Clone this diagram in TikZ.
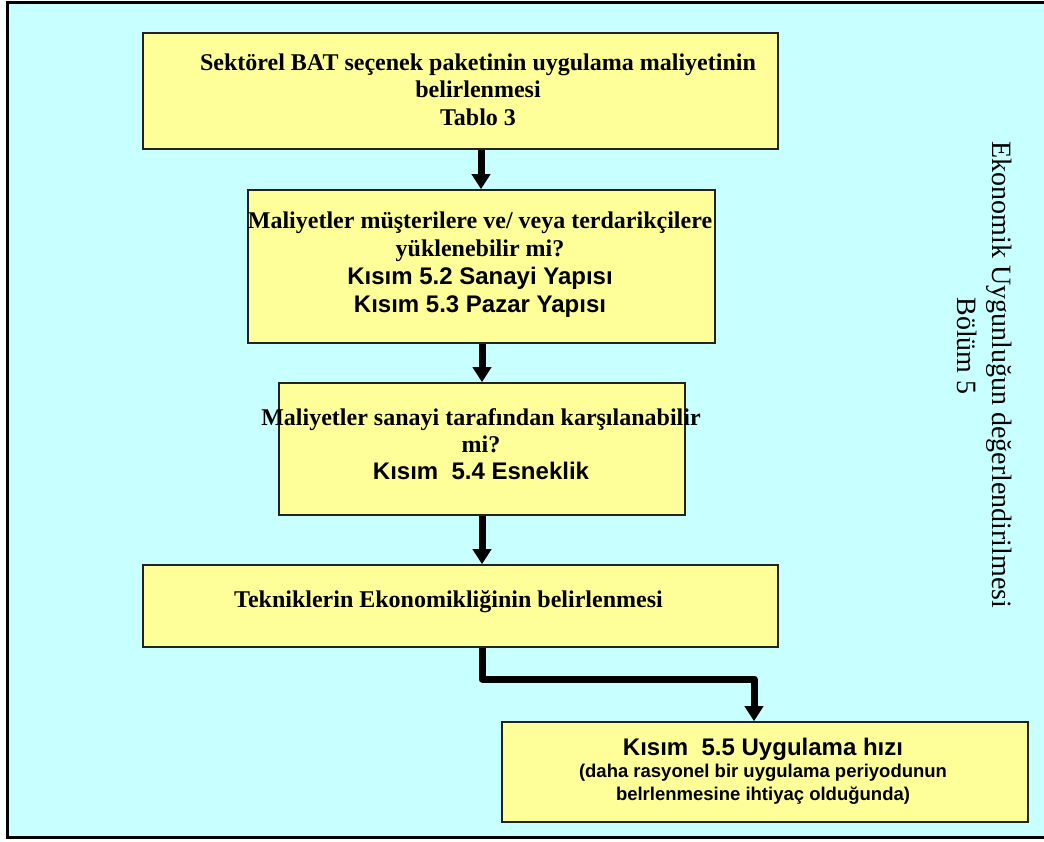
\documentclass[tikz,border=0pt]{standalone}
\usepackage{fontspec}
\setmainfont{Liberation Serif}
\newfontfamily\arialfont{Liberation Sans}
\usetikzlibrary{arrows.meta}
\definecolor{panelcyan}{HTML}{C8FFFF}
\definecolor{boxyellow}{HTML}{FFFF99}
\definecolor{boxline}{HTML}{222222}
\tikzset{
  stepbox/.style={draw=boxline, line width=1.6pt, fill=boxyellow, inner sep=0pt},
  % base anchor of a multi-line node sits on the baseline of its last line
  boxtext/.style={align=center, inner sep=0pt, anchor=base},
  headtip/.tip={Triangle[width=18pt,length=15pt]},
  flow/.style={line width=7pt, -headtip},
}
\newcommand{\sanslarge}{\arialfont\fontsize{24}{28}\selectfont}
\begin{document}
\begin{tikzpicture}[x=1pt,y=-1pt]
\useasboundingbox (0,0) rectangle (1044,841);
% panel background and frame
\fill[panelcyan] (7,2) rectangle (1044,837);
\draw[line width=3pt] (1046,2) -- (7,2) -- (7,837) -- (1046,837);

% boxes
\node[stepbox, minimum width=635pt, minimum height=116pt] (b1) at (460.5,91) {};
\node[stepbox, minimum width=467pt, minimum height=153pt] (b2) at (481.5,266.5) {};
\node[stepbox, minimum width=406pt, minimum height=132pt] (b3) at (482,449) {};
\node[stepbox, minimum width=635pt, minimum height=82pt] (b4) at (460.5,606) {};
\node[stepbox, minimum width=526pt, minimum height=100pt] (b5) at (765,772) {};

% texts
\node[boxtext, font=\fontsize{24}{27}\selectfont\bfseries] (t1) at (478,125)
  {Sektörel BAT seçenek paketinin uygulama maliyetinin\\belirlenmesi\\[1pt]Tablo 3};
\node[boxtext, font=\fontsize{24}{28}\selectfont\bfseries] (t2) at (480,312)
  {Maliyetler müşterilere ve/ veya terdarikçilere\\yüklenebilir mi?\\
   {\sanslarge Kısım 5.2 Sanayi Yapısı}\\
   {\sanslarge Kısım 5.3 Pazar Yapısı}};
\node[boxtext, font=\fontsize{24}{27}\selectfont\bfseries] (t3) at (481,479)
  {Maliyetler sanayi tarafından karşılanabilir\\mi?\\
   {\sanslarge Kısım\ \ 5.4 Esneklik}};
\node[inner sep=0pt, anchor=base west, font=\fontsize{24}{27}\selectfont\bfseries] (t4) at (234,607)
  {Tekniklerin Ekonomikliğinin belirlenmesi};
\node[boxtext, font=\arialfont\bfseries\fontsize{18.5}{22.5}\selectfont] (t5) at (763,800)
  {{\fontsize{24}{23}\selectfont Kısım\ \ 5.5 Uygulama hızı}\\
   (daha rasyonel bir uygulama periyodunun\\
   belrlenmesine ihtiyaç olduğunda)};

% side caption, read top to bottom
\node[rotate=-90, inner sep=0pt, anchor=base, font=\fontsize{28}{34}\selectfont] (side1) at (992,375)
  {Ekonomik Uygunluğun değerlendirilmesi};
\node[rotate=-90, inner sep=0pt, anchor=base, font=\fontsize{28}{34}\selectfont] (side2) at (957,346)
  {Bölüm 5};

% connectors
\draw[flow] (b1.south -| 481,0) -- (b2.north -| 481,0);
\draw[flow] (b2.south -| 482,0) -- (b3.north -| 482,0);
\draw[flow] (b3.south -| 482,0) -- (b4.north -| 482,0);
\coordinate (bend) at (482,679);
\draw[flow, line join=round]
  (b4.south -| bend) -- (bend) -- (bend -| 754,0) -- (b5.north -| 754,0);
\end{tikzpicture}
\end{document}
